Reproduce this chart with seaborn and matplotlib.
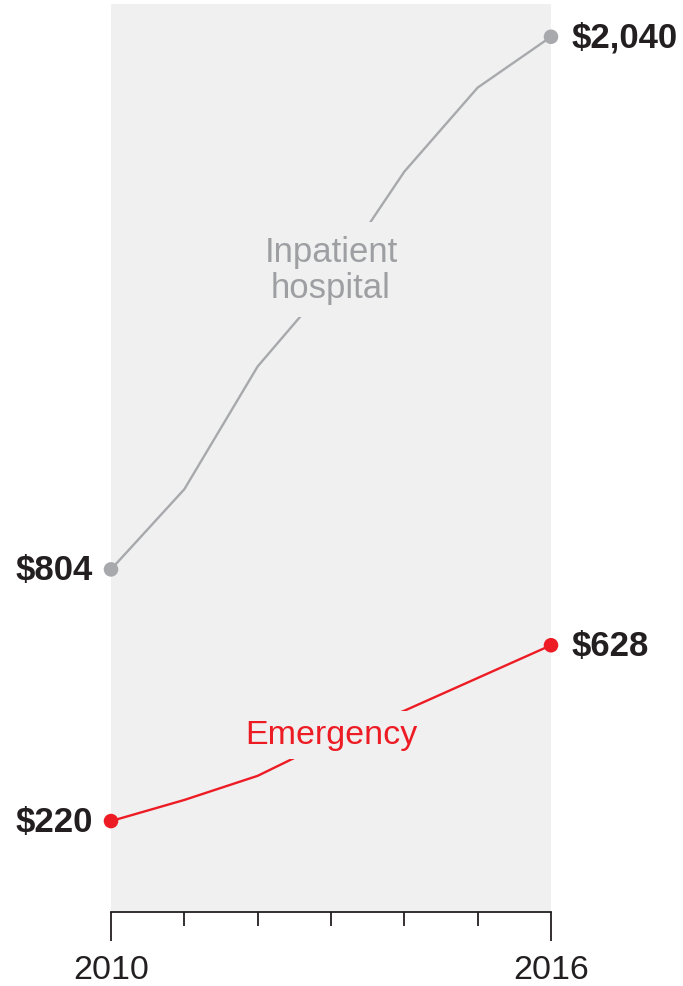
import pandas as pd
import seaborn as sns
import matplotlib.pyplot as plt

years = [2010, 2011, 2012, 2013, 2014, 2015, 2016]
inpatient = [804, 990, 1275, 1474, 1727, 1922, 2040]
emergency = [220, 269, 325, 408, 476, 552, 628]

gray = '#a7a9ac'
red = '#ed1c24'
dark = '#231f20'
panel = '#f0f0f0'

df = pd.DataFrame({'Year': years + years,
                   'Cost': inpatient + emergency,
                   'Series': ['Inpatient hospital'] * 7 + ['Emergency'] * 7})
ends = df[df['Year'].isin([years[0], years[-1]])]

sns.set_style('white')
plt.rcParams['font.family'] = ['Liberation Sans', 'DejaVu Sans']

fig = plt.figure(figsize=(6.83, 9.87), dpi=100)
ax = fig.add_axes([111 / 683, 74 / 987, 440 / 683, 908 / 987])
ax.set_facecolor(panel)

pal = {'Inpatient hospital': gray, 'Emergency': red}
sns.lineplot(data=df, x='Year', y='Cost', hue='Series', palette=pal,
             linewidth=1.7, legend=False, ax=ax)
sns.scatterplot(data=ends, x='Year', y='Cost', hue='Series', palette=pal,
                s=110, linewidth=0, legend=False, ax=ax, zorder=4, clip_on=False)

ax.set_xlim(2010, 2016)
ax.set_ylim(9, 2116)

# end labels
for vals in (inpatient, emergency):
    ax.text(years[0] - 0.25, vals[0], f'${vals[0]:,}', ha='right', va='center',
            fontsize=25, fontweight='bold', color=dark)
    ax.text(years[-1] + 0.28, vals[-1], f'${vals[-1]:,}', ha='left', va='center',
            fontsize=25, fontweight='bold', color=dark)

# series labels, with a box that hides the line behind them
ax.text(2013, 1500, 'Inpatient\nhospital', ha='center', va='center',
        fontsize=25, color='#9d9fa2', linespacing=1.15, zorder=3,
        bbox=dict(facecolor=panel, edgecolor='none', pad=9))
ax.text(2013.01, 420, 'Emergency', ha='center', va='center',
        fontsize=24.5, color=red, zorder=3,
        bbox=dict(facecolor=panel, edgecolor='none', pad=6))

for s in ['top', 'right', 'left']:
    ax.spines[s].set_visible(False)
ax.spines['bottom'].set_color(dark)
ax.spines['bottom'].set_linewidth(1.3)

ax.set_xticks([2010, 2016])
ax.set_xticklabels(['2010', '2016'])
ax.set_xticks(years[1:-1], minor=True)
ax.tick_params(axis='x', which='major', direction='out', length=21, width=1.3,
               color=dark, labelsize=24.5, labelcolor=dark, pad=9, bottom=True)
ax.tick_params(axis='x', which='minor', direction='out', length=10, width=1.3,
               color=dark, bottom=True)
ax.set_yticks([])
ax.set_xlabel('')
ax.set_ylabel('')

fig.savefig('out.png', dpi=100, facecolor='white')
